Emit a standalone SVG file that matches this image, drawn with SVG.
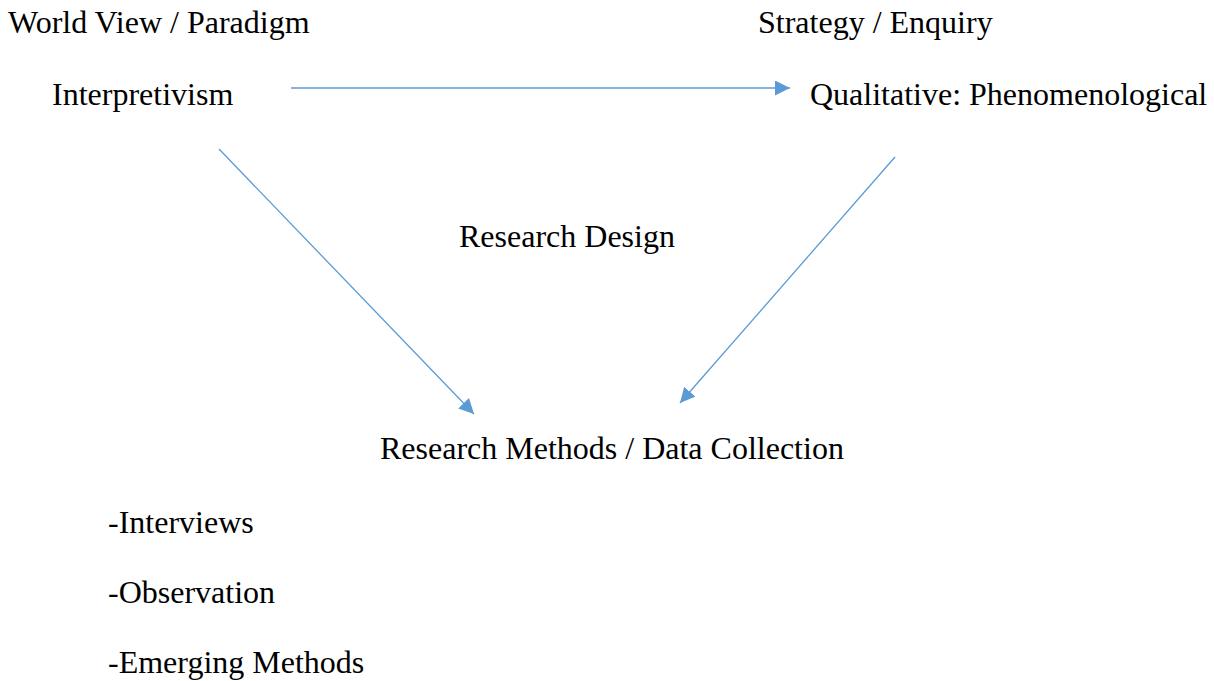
<svg xmlns="http://www.w3.org/2000/svg" width="1214" height="681" viewBox="0 0 1214 681">
<style>
text{font-family:"Liberation Serif","Times New Roman",serif;font-size:32px;fill:#000}
.c{stroke:#5B9BD5;stroke-width:1.3;fill:none}
</style>
<defs>
<marker id="ah" viewBox="0 0 10 10" refX="10" refY="5" markerWidth="15" markerHeight="15" markerUnits="userSpaceOnUse" orient="auto">
<path d="M0,0 L10,5 L0,10 z" fill="#5B9BD5"/>
</marker>
</defs>
<rect width="1214" height="681" fill="#fff"/>
<g id="connectors">
<line class="c" x1="291" y1="88" x2="790" y2="88" marker-end="url(#ah)"/>
<line class="c" x1="219" y1="149" x2="474" y2="414" marker-end="url(#ah)"/>
<line class="c" x1="895" y1="157" x2="680" y2="403" marker-end="url(#ah)"/>
</g>
<g id="worldview"><text x="8" y="33">World View / Paradigm</text></g>
<g id="interpretivism"><text x="52" y="105">Interpretivism</text></g>
<g id="strategy"><text x="758" y="33">Strategy / Enquiry</text></g>
<g id="qualitative"><text x="810" y="105">Qualitative: Phenomenological</text></g>
<g id="design"><text x="459" y="247">Research Design</text></g>
<g id="methods"><text x="380" y="459">Research Methods / Data Collection</text></g>
<g id="list">
<text x="108" y="533">-Interviews</text>
<text x="108" y="603">-Observation</text>
<text x="108" y="673">-Emerging Methods</text>
</g>
</svg>
